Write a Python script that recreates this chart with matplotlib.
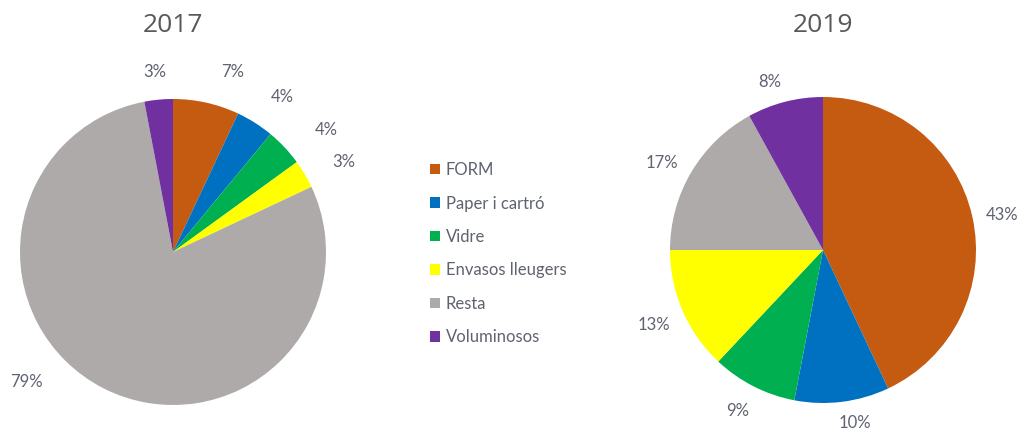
import numpy as np
import matplotlib
matplotlib.use("Agg")
import matplotlib.pyplot as plt
from matplotlib.patches import Patch

categories = ["FORM", "Paper i cartró", "Vidre", "Envasos lleugers", "Resta", "Voluminosos"]
vals_2017 = [7, 4, 4, 3, 79, 3]
vals_2019 = [43, 10, 9, 13, 17, 8]
colors = ["#C55A11", "#0070C0", "#00B050", "#FFFF00", "#AEAAAA", "#7030A0"]

# label placement tweaks (angle shift in degrees, radial distance)
shift_2017 = [-5.8, -2.7, -4.8, -2.7, -21.5, 0.3]
dist_2017 = [1.24, 1.24, 1.28, 1.26, 1.28, 1.18]
shift_2019 = [-1.6, 3.3, -1.0, 0.6, 2.2, 3.2]
dist_2019 = [1.19, 1.15, 1.19, 1.21, 1.20, 1.15]

txt_color = "#5F6270"
plt.rcParams["font.family"] = ["Lato", "DejaVu Sans"]

fig = plt.figure(figsize=(10.2, 4.32), dpi=100)
W, H = 1020, 432

def pie_axes(cx, cy, r):
    return fig.add_axes([(cx - r) / W, (H - cy - r) / H, 2 * r / W, 2 * r / H])

ax1 = pie_axes(173, 252, 153)
ax2 = pie_axes(823, 250, 153)

for ax, vals, shifts, dists in [(ax1, vals_2017, shift_2017, dist_2017),
                                (ax2, vals_2019, shift_2019, dist_2019)]:
    ax.pie(vals, colors=colors, startangle=90, counterclock=False,
           wedgeprops=dict(linewidth=0))
    tot = sum(vals)
    theta = 90.0
    for v, s, d in zip(vals, shifts, dists):
        mid = np.deg2rad(theta - 360.0 * v / tot / 2 + s)
        ax.text(d * np.cos(mid), d * np.sin(mid), "%d%%" % round(100 * v / tot),
                ha="center", va="center", fontsize=12, color=txt_color)
        theta -= 360.0 * v / tot
    ax.set_xlim(-1, 1)
    ax.set_ylim(-1, 1)
    ax.set_aspect("equal")
    ax.axis("off")

fig.text(173 / W, 1 - 26 / H, "2017", ha="center", va="center", fontsize=19,
         color="#595959", family="Open Sans")
fig.text(823 / W, 1 - 26 / H, "2019", ha="center", va="center", fontsize=19,
         color="#595959", family="Open Sans")

handles = [Patch(facecolor=c, edgecolor="none") for c in colors]
leg = fig.legend(handles, categories, loc="upper left", bbox_to_anchor=(430 / W, 1 - 162 / H),
                 frameon=False, fontsize=12, labelspacing=1.05, handlelength=0.6,
                 handleheight=0.6, handletextpad=0.35, borderpad=0, borderaxespad=0)
for t in leg.get_texts():
    t.set_color(txt_color)

fig.savefig("out.png", dpi=100, facecolor="white")
